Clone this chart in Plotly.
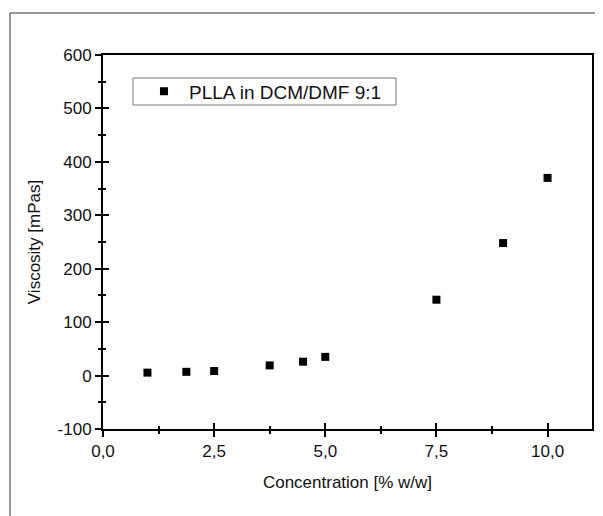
import plotly.graph_objects as go

# Data
concentration = [1.0, 1.875, 2.5, 3.75, 4.5, 5.0, 7.5, 9.0, 10.0]
viscosity = [5.5, 7.0, 8.5, 19.0, 26.0, 35.0, 142.0, 248.0, 370.0]
series_name = "PLLA in DCM/DMF 9:1"

x_tickvals = [0.0, 2.5, 5.0, 7.5, 10.0]
x_ticktext = ["0,0", "2,5", "5,0", "7,5", "10,0"]
y_tickvals = [-100, 0, 100, 200, 300, 400, 500, 600]
y_ticktext = ["-100", "0", "100", "200", "300", "400", "500", "600"]

FONT = "Liberation Sans, Arial, sans-serif"

fig = go.Figure()
fig.add_trace(go.Scatter(
    x=concentration, y=viscosity, mode="markers", name=series_name,
    marker=dict(symbol="square", size=8, color="black"),
))
# invisible twin trace to carry the inside-tick overlay axes
fig.add_trace(go.Scatter(
    x=concentration, y=viscosity, mode="markers", xaxis="x2", yaxis="y2",
    marker=dict(opacity=0), showlegend=False, hoverinfo="skip",
))

axis_common = dict(showgrid=False, zeroline=False, linecolor="black", linewidth=2,
                   tickcolor="black", tickwidth=1.5, automargin=False)

fig.update_layout(
    width=595, height=508,
    margin=dict(l=95, r=11, t=47, b=87),
    paper_bgcolor="white", plot_bgcolor="white",
    font=dict(family=FONT, size=17, color="#111"),
    xaxis=dict(range=[0, 11], tickvals=x_tickvals, ticktext=x_ticktext,
               ticks="outside", ticklen=6, showline=True, mirror=True,
               minor=dict(dtick=1.25, tick0=0, ticks="outside", ticklen=3,
                          tickcolor="black", tickwidth=1.5),
               title=dict(text="Concentration [% w/w]", standoff=16,
                          font=dict(size=17)),
               tickfont=dict(size=17), **axis_common),
    yaxis=dict(range=[-100, 600], tickvals=y_tickvals, ticktext=y_ticktext,
               ticks="outside", ticklen=6, showline=True, mirror=True,
               minor=dict(dtick=50, tick0=0, ticks="outside", ticklen=3,
                          tickcolor="black", tickwidth=1.5),
               title=dict(text="Viscosity [mPas]", standoff=13,
                          font=dict(size=17)),
               tickfont=dict(size=17), **axis_common),
    xaxis2=dict(overlaying="x", matches="x", anchor="y2", range=[0, 11],
                tickvals=x_tickvals, ticks="inside", ticklen=6, showticklabels=False,
                minor=dict(dtick=1.25, tick0=0, ticks="inside", ticklen=3,
                           tickcolor="black", tickwidth=1.5),
                showline=False, showgrid=False, zeroline=False, automargin=False,
                tickcolor="black", tickwidth=1.5),
    yaxis2=dict(overlaying="y", matches="y", anchor="x2", range=[-100, 600],
                tickvals=y_tickvals, ticks="inside", ticklen=6, showticklabels=False,
                minor=dict(dtick=50, tick0=0, ticks="inside", ticklen=3,
                           tickcolor="black", tickwidth=1.5),
                showline=False, showgrid=False, zeroline=False, automargin=False,
                tickcolor="black", tickwidth=1.5),
    legend=dict(x=0.0613, y=0.9024, xanchor="left", yanchor="middle",
                borderwidth=0, bgcolor="rgba(0,0,0,0)",
                font=dict(size=19), indentation=6, itemwidth=40),
    showlegend=True,
    shapes=[
        # outer figure frame
        dict(type="line", xref="paper", yref="paper", x0=-0.1902, x1=-0.1902,
             y0=-0.35, y1=1.1123, line=dict(color="#333", width=1)),
        dict(type="line", xref="paper", yref="paper", x0=-0.1902, x1=1.1,
             y0=1.1123, y1=1.1123, line=dict(color="#333", width=1)),
        # legend box
        dict(type="rect", xref="paper", yref="paper", x0=0.0613, x1=0.5992,
             y0=0.8663, y1=0.9385, line=dict(color="#777", width=1),
             fillcolor="white", layer="below"),
    ],
)

fig.write_html("out.html")
